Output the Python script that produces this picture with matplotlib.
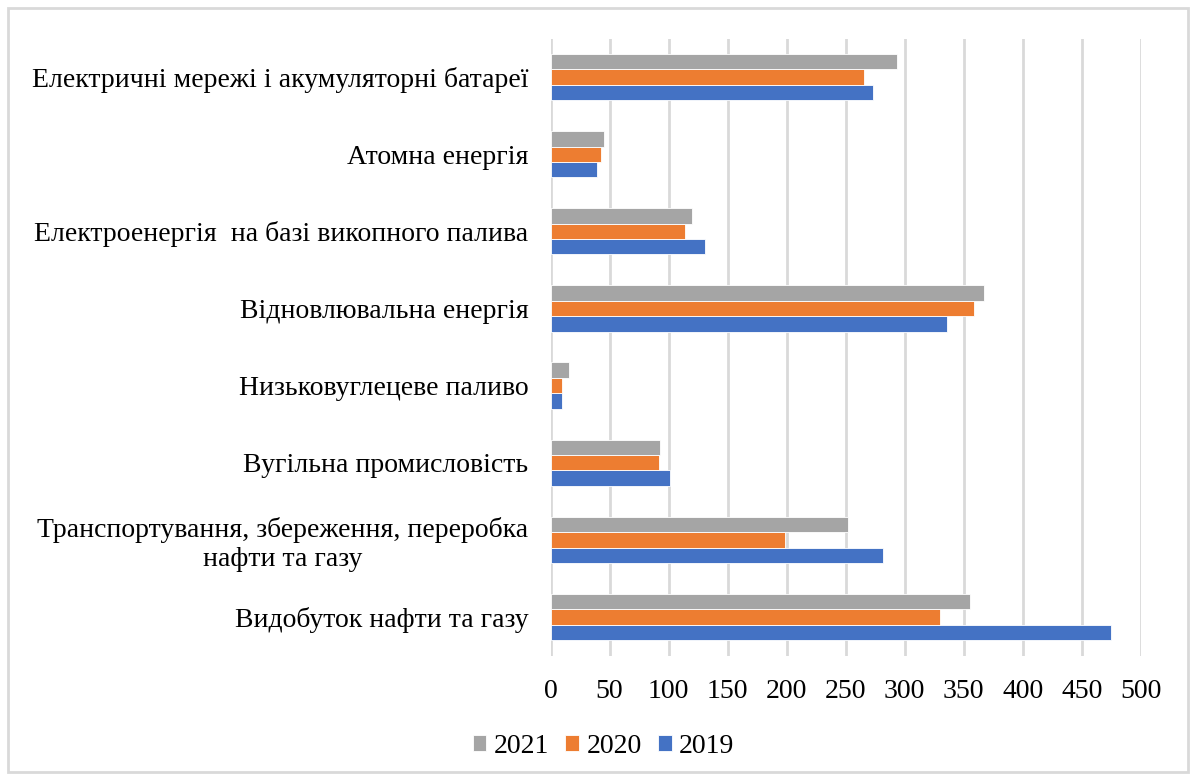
import numpy as np
import matplotlib
matplotlib.use("Agg")
import matplotlib.pyplot as plt
from matplotlib.patches import Rectangle

plt.rcParams['font.family'] = ['Liberation Serif', 'DejaVu Serif']

# categories listed bottom to top
categories = [
    'Видобуток нафти та газу',
    'Транспортування, збереження, переробка\nнафти та газу',
    'Вугільна промисловість',
    'Низьковуглецеве паливо',
    'Відновлювальна енергія',
    'Електроенергія  на базі викопного палива',
    'Атомна енергія',
    'Електричні мережі і акумуляторні батареї',
]
vals_2019 = [475, 282, 101, 9.5, 336, 131, 39.5, 273]
vals_2020 = [330, 199, 92, 9.5, 358.5, 113.5, 43, 265.5]
vals_2021 = [355, 252, 93, 16, 367, 120, 45, 293.5]
x_ticks = np.arange(0, 501, 50)

fig = plt.figure(figsize=(11.96, 7.8), dpi=100)
ax = fig.add_axes([0.4603, 0.1596, 0.4935, 0.791])

y = np.arange(len(categories))
h = 0.2
ax.barh(y - h, vals_2019, height=h, color='#4472C4', edgecolor='white', linewidth=0.6, label='2019', zorder=3)
ax.barh(y, vals_2020, height=h, color='#ED7D31', edgecolor='white', linewidth=0.6, label='2020', zorder=3)
ax.barh(y + h, vals_2021, height=h, color='#A5A5A5', edgecolor='white', linewidth=0.6, label='2021', zorder=3)

ax.set_xlim(0, 500)
ax.set_ylim(-0.5, len(categories) - 0.5)
ax.set_xticks(x_ticks)
ax.set_yticks(y)
ax.set_yticklabels(categories, fontsize=20, multialignment='center')
ax.tick_params(axis='x', labelsize=20, length=0, pad=17)
ax.tick_params(axis='y', length=0, pad=16)
ax.grid(axis='x', color='#d9d9d9', linewidth=2, zorder=0)
for s in ax.spines.values():
    s.set_visible(False)

handles, labels = ax.get_legend_handles_labels()
order = [2, 1, 0]
fig.legend([handles[i] for i in order], [labels[i] for i in order],
           loc='center', bbox_to_anchor=(0.5046, 0.043), ncol=3, frameon=False,
           fontsize=20, handlelength=0.5, handleheight=0.5, handletextpad=0.25,
           columnspacing=0.6)

# outer frame
fig.patches.append(Rectangle((8 / 1196, 8 / 780), 1180 / 1196, 764 / 780,
                             transform=fig.transFigure, fill=False,
                             edgecolor='#d9d9d9', linewidth=2))

fig.savefig('out.png', dpi=100)
